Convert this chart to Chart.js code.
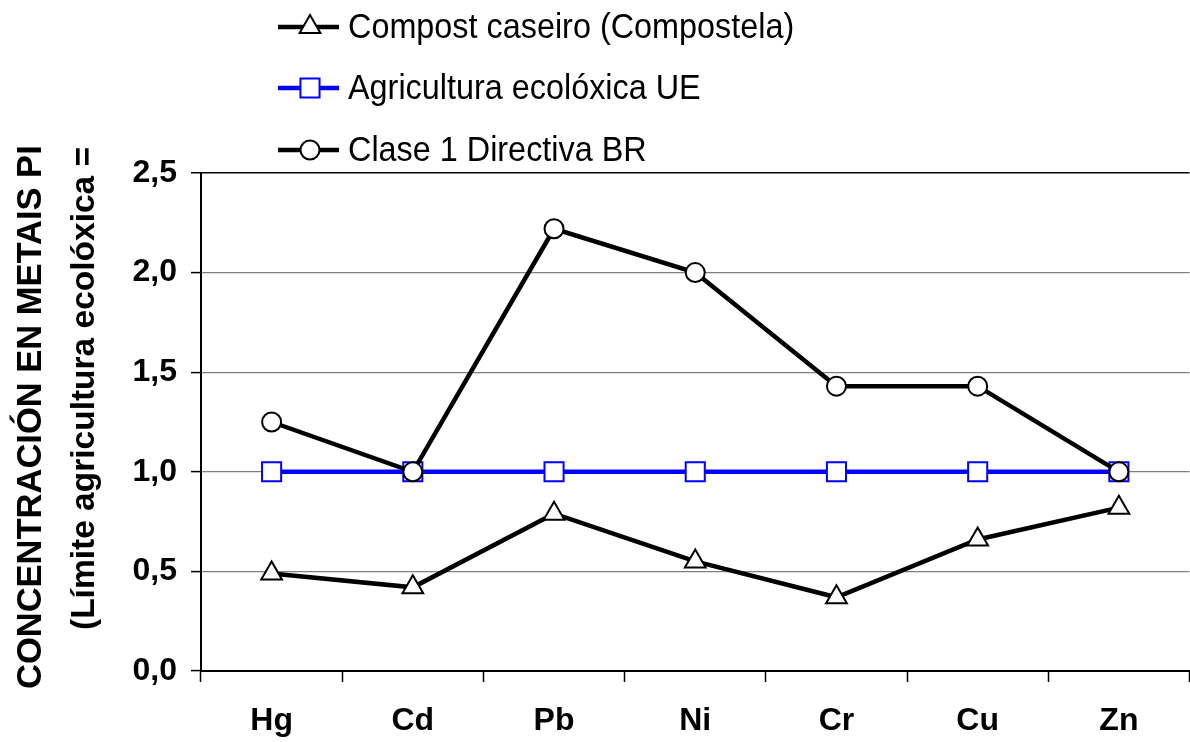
<!DOCTYPE html>
<html>
<head>
<meta charset="utf-8">
<script src="https://cdn.jsdelivr.net/npm/chart.js@4/dist/chart.umd.min.js"></script>
<style>
  html, body { margin: 0; padding: 0; background: #ffffff; overflow: hidden; }
  #wrap { width: 1205px; height: 742px; position: relative; }
</style>
</head>
<body>
<div id="wrap"><canvas id="c"></canvas></div>
<script>
// ---- data ----
const categories = ['Hg', 'Cd', 'Pb', 'Ni', 'Cr', 'Cu', 'Zn'];
const compostCaseiro = [0.49, 0.42, 0.79, 0.55, 0.37, 0.66, 0.82];
const agriculturaEcoloxica = [1.0, 1.0, 1.0, 1.0, 1.0, 1.0, 1.0];
const clase1Directiva = [1.25, 1.0, 2.22, 2.0, 1.43, 1.43, 1.0];
const seriesNames = ['Compost caseiro (Compostela)', 'Agricultura ecolóxica UE', 'Clase 1 Directiva BR'];
const yTitleLines = ['CONCENTRACIÓN EN METAIS PI', '(Límite agricultura ecolóxica ='];
const yTicks = [0, 0.5, 1.0, 1.5, 2.0, 2.5];

const FONT = "'Liberation Sans', Arial, sans-serif";

function drawMarker(ctx, style, r, x, y, color) {
  ctx.save();
  ctx.fillStyle = '#ffffff';
  ctx.strokeStyle = color;
  ctx.lineWidth = 2;
  ctx.beginPath();
  if (style === 'triangle') {
    let rad = 0;
    for (let i = 0; i < 3; i++) {
      const px = x + Math.sin(rad) * r, py = y - Math.cos(rad) * r;
      if (i === 0) ctx.moveTo(px, py); else ctx.lineTo(px, py);
      rad += 2 * Math.PI / 3;
    }
    ctx.closePath();
  } else if (style === 'rect') {
    const s = Math.SQRT1_2 * r;
    ctx.rect(x - s, y - s, 2 * s, 2 * s);
  } else {
    ctx.arc(x, y, r, 0, Math.PI * 2);
  }
  ctx.fill();
  ctx.stroke();
  ctx.restore();
}

const extrasPlugin = {
  id: 'extras',
  afterDraw(chart) {
    const ctx = chart.ctx;
    const area = chart.chartArea;
    // ---- legend (vertical list above plot) ----
    const rows = [27, 88, 150];
    chart.data.datasets.forEach((ds) => {
      const y = rows[ds.legendIndex];
      ctx.save();
      ctx.strokeStyle = ds.borderColor;
      ctx.lineWidth = 4.5;
      ctx.beginPath();
      ctx.moveTo(278, y);
      ctx.lineTo(339, y);
      ctx.stroke();
      ctx.restore();
      drawMarker(ctx, ds.pointStyle, ds.pointRadius, 310, y, ds.pointBorderColor);
      ctx.save();
      ctx.fillStyle = '#000000';
      ctx.font = '35px ' + FONT;
      ctx.textAlign = 'left';
      ctx.textBaseline = 'middle';
      ctx.translate(348, y + 1);
      ctx.scale(0.925, 1);
      ctx.fillText(ds.label, 0, 0);
      ctx.restore();
    });
    // ---- y axis title (two rotated lines) ----
    ctx.save();
    ctx.fillStyle = '#000000';
    ctx.font = 'bold 34.5px ' + FONT;
    ctx.textAlign = 'left';
    ctx.textBaseline = 'middle';
    ctx.translate(31, area.bottom + 18);
    ctx.rotate(-Math.PI / 2);
    ctx.fillText(yTitleLines[0], 0, 0);
    ctx.restore();
    ctx.save();
    ctx.fillStyle = '#000000';
    ctx.font = 'bold 33.5px ' + FONT;
    ctx.textAlign = 'left';
    ctx.textBaseline = 'middle';
    ctx.translate(85, area.bottom - 41);
    ctx.rotate(-Math.PI / 2);
    ctx.fillText(yTitleLines[1], 0, 0);
    ctx.restore();
  }
};

new Chart(document.getElementById('c'), {
  type: 'line',
  data: {
    labels: categories,
    datasets: [
      {
        label: seriesNames[0], legendIndex: 0, order: 1,
        data: compostCaseiro,
        borderColor: '#000000', borderWidth: 4.5,
        pointStyle: 'triangle', pointRadius: 12, pointHoverRadius: 12,
        pointBackgroundColor: '#ffffff', pointBorderColor: '#000000', pointBorderWidth: 2,
        tension: 0, fill: false
      },
      {
        label: seriesNames[1], legendIndex: 1, order: 3,
        data: agriculturaEcoloxica,
        borderColor: '#0000ff', borderWidth: 4.5,
        pointStyle: 'rect', pointRadius: 13.5, pointHoverRadius: 13.5,
        pointBackgroundColor: '#ffffff', pointBorderColor: '#0000ff', pointBorderWidth: 2,
        tension: 0, fill: false
      },
      {
        label: seriesNames[2], legendIndex: 2, order: 2,
        data: clase1Directiva,
        borderColor: '#000000', borderWidth: 4.5,
        pointStyle: 'circle', pointRadius: 9.5, pointHoverRadius: 9.5,
        pointBackgroundColor: '#ffffff', pointBorderColor: '#000000', pointBorderWidth: 2,
        tension: 0, fill: false
      }
    ]
  },
  options: {
    responsive: true,
    maintainAspectRatio: false,
    animation: false,
    layout: { padding: { top: 173, right: 0, bottom: 0, left: 0 } },
    plugins: {
      legend: { display: false },
      tooltip: { enabled: false },
      title: { display: false }
    },
    scales: {
      x: {
        type: 'category',
        offset: true,
        afterFit(scale) { scale.height = 71; scale.paddingLeft = 0; scale.paddingRight = 0; },
        border: { display: true, color: '#000000', width: 2 },
        grid: {
          display: true, offset: true, drawOnChartArea: false, drawTicks: true,
          tickLength: 11, tickColor: '#000000', tickWidth: 1.5
        },
        ticks: {
          color: '#000000', padding: 20, maxRotation: 0,
          font: { family: FONT, size: 32, weight: 'bold' }
        }
      },
      y: {
        min: 0, max: 2.5,
        afterFit(scale) { scale.width = 201; },
        afterBuildTicks(scale) { scale.ticks = yTicks.map(v => ({ value: v })); },
        border: { display: true, color: '#000000', width: 2 },
        grid: {
          color: (c) => (c.tick && c.tick.value === 2.5 ? '#000000' : '#808080'),
          lineWidth: (c) => (c.tick && c.tick.value === 2.5 ? 1.5 : 1.2),
          drawTicks: true, tickLength: 10, tickColor: '#000000', tickWidth: 1.5
        },
        ticks: {
          color: '#000000', padding: 14,
          font: { family: FONT, size: 32, weight: 'bold' },
          callback: (v) => Number(v).toFixed(1).replace('.', ',')
        }
      }
    }
  },
  plugins: [extrasPlugin]
});
</script>
</body>
</html>
